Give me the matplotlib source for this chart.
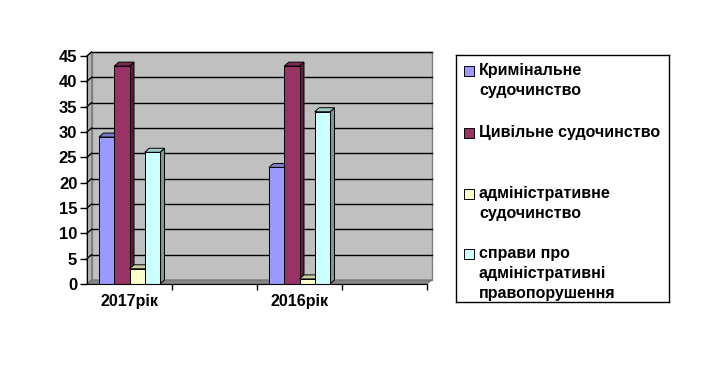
import matplotlib
matplotlib.use("Agg")
import matplotlib.pyplot as plt
from matplotlib.patches import Polygon, Rectangle
import numpy as np

plt.rcParams['font.family'] = ['Liberation Sans', 'DejaVu Sans']

categories = ["2017рік", "", "2016рік", ""]
series_names = ["Кримінальне\nсудочинство", "Цивільне судочинство",
                "адміністративне\nсудочинство", "справи про\nадміністративні\nправопорушення"]
criminal = [29, np.nan, 23, np.nan]
civil = [43, np.nan, 43, np.nan]
admin = [3, np.nan, 1, np.nan]
offences = [26, np.nan, 34, np.nan]
series_values = [criminal, civil, admin, offences]
colors = ["#9999FF", "#993366", "#FFFFCC", "#CCFFFF"]
yticks = list(range(0, 50, 5))

W, H = 703, 366
fig = plt.figure(figsize=(W / 100, H / 100), dpi=100)
fig.patch.set_facecolor("white")

x0, x1, yb, yt = 87, 427, 284, 56
ax = fig.add_axes([x0 / W, (H - yb) / H, (x1 - x0) / W, (yb - yt) / H])
ncat = len(categories)
ymax = 45
ax.set_xlim(0, ncat)
ax.set_ylim(0, ymax)

px_x = ncat / (x1 - x0)
px_y = ymax / (yb - yt)
dx = 4.5 * px_x
dy = 4 * px_y


def shade(c, f):
    r, g, b = matplotlib.colors.to_rgb(c)
    return (r * f, g * f, b * f)


# walls
ax.add_patch(Polygon([(dx, dy), (ncat + dx, dy), (ncat + dx, ymax + dy), (dx, ymax + dy)],
                     closed=True, facecolor="#C0C0C0", edgecolor="#808080", lw=1, clip_on=False, zorder=1))
ax.add_patch(Polygon([(0, 0), (dx, dy), (dx, ymax + dy), (0, ymax)],
                     closed=True, facecolor="#B4B4B4", edgecolor="#808080", lw=0.8, clip_on=False, zorder=1))
ax.add_patch(Polygon([(0, 0), (ncat, 0), (ncat + dx, dy), (dx, dy)],
                     closed=True, facecolor="#878787", edgecolor="#707070", lw=0.8, clip_on=False, zorder=1))
for v in yticks[1:]:
    ax.plot([dx, ncat + dx], [v + dy, v + dy], color="black", lw=1, clip_on=False, zorder=2)
    ax.plot([0, dx], [v, v + dy], color="black", lw=1, clip_on=False, zorder=2)

# bars
nser = len(series_values)
group = 61 / 85
bw = group / nser
for ci in range(ncat):
    for si in range(nser):
        v = series_values[si][ci]
        if np.isnan(v):
            continue
        left = ci + (1 - group) / 2 + si * bw
        c = colors[si]
        kw = dict(closed=True, edgecolor="black", lw=0.7, clip_on=False, zorder=3 + si * 0.1 + ci)
        ax.add_patch(Polygon([(left + bw, 0), (left + bw + dx, dy), (left + bw + dx, v + dy), (left + bw, v)],
                             facecolor=shade(c, 0.6), **kw))
        ax.add_patch(Polygon([(left, v), (left + bw, v), (left + bw + dx, v + dy), (left + dx, v + dy)],
                             facecolor=shade(c, 0.8), **kw))
        ax.add_patch(Polygon([(left, 0), (left + bw, 0), (left + bw, v), (left, v)],
                             facecolor=c, **kw))

ax.set_facecolor("none")
for s in ["top", "right"]:
    ax.spines[s].set_visible(False)
ax.spines["left"].set_color("black")
ax.spines["bottom"].set_color("black")
ax.spines["left"].set_zorder(10)
ax.spines["bottom"].set_zorder(10)
ax.set_yticks(yticks)
ax.set_yticklabels([str(t) for t in yticks], fontsize=12, fontweight="bold")
ax.tick_params(axis="y", length=5, pad=2, width=1)
ax.set_xticks(range(1, ncat + 1))
ax.set_xticklabels([])
ax.tick_params(axis="x", length=4, width=1, direction="out")
for ci, name in enumerate(categories):
    if name:
        ax.text(ci + 0.5, -22 * px_y, name, ha="center", va="baseline", fontsize=11.5, fontweight="bold")

# legend
lx0, lx1, ly0, ly1 = 456, 669, 55, 302
lax = fig.add_axes([lx0 / W, (H - ly1) / H, (lx1 - lx0) / W, (ly1 - ly0) / H])
lax.set_xlim(lx0, lx1)
lax.set_ylim(ly1, ly0)
lax.set_xticks([])
lax.set_yticks([])
lax.set_facecolor("white")
for s in lax.spines.values():
    s.set_color("black")
    s.set_linewidth(1)
entry_baselines = [75, 137, 198, 258]
line_gap = 20
for name, c, base in zip(series_names, colors, entry_baselines):
    lax.add_patch(Rectangle((464.5, base - 9), 10, 10, facecolor=c, edgecolor="black", lw=0.7))
    for li, line in enumerate(name.split("\n")):
        lax.text(479, base + li * line_gap, line, ha="left", va="baseline", fontsize=11.5,
                 fontweight="bold")

fig.savefig("out.png", dpi=100)
